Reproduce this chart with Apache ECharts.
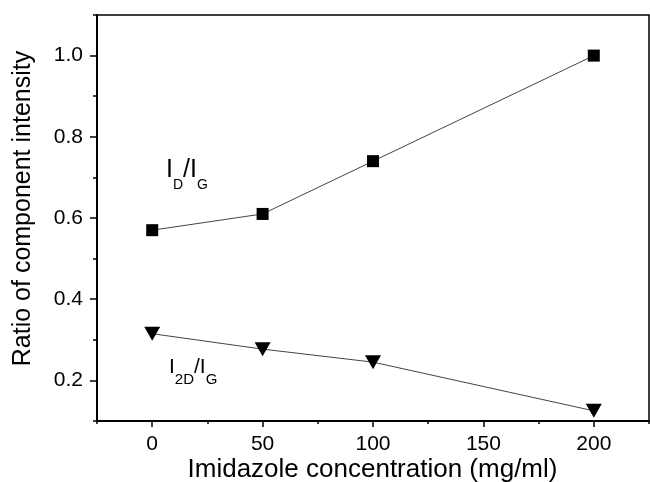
<!DOCTYPE html>
<html>
<head>
<meta charset="utf-8">
<script src="https://cdn.jsdelivr.net/npm/echarts@6/dist/echarts.min.js"></script>
<style>
  html, body { margin: 0; padding: 0; background: #fff; }
  #chart { width: 650px; height: 482px; }
</style>
</head>
<body>
<div id="chart"></div>
<script>
// 浓度 (mg/ml)
var concentration = [0, 50, 100, 200];
// I_D / I_G
var ratioDG = [0.57, 0.61, 0.74, 1.0];
// I_2D / I_G
var ratio2DG = [0.315, 0.277, 0.245, 0.125];
// 刻度
var xMajorTicks = [0, 50, 100, 150, 200];
var yMajorTicks = [0.2, 0.4, 0.6, 0.8, 1.0];

var font = "'Liberation Sans', Arial, sans-serif";

var myChart = echarts.init(document.getElementById('chart'), null, { renderer: 'canvas' });

function pairs(xs, ys) {
    var out = [];
    for (var i = 0; i < xs.length; i++) {
        out.push([xs[i], ys[i]]);
    }
    return out;
}

var option = {
    backgroundColor: '#fff',
    animation: false,
    grid: {
        left: 97,
        right: 1,
        top: 15,
        bottom: 61,
        show: true,
        borderColor: '#000',
        borderWidth: 1.5
    },
    xAxis: [
        {
            type: 'value',
            min: -25,
            max: 225,
            interval: 25,
            position: 'bottom',
            splitLine: { show: false },
            axisLine: { onZero: false, lineStyle: { color: '#000', width: 2 } },
            axisTick: { length: 3, lineStyle: { color: '#000', width: 1.5 } },
            axisLabel: {
                customValues: xMajorTicks,
                margin: 13,
                color: '#000',
                fontSize: 21,
                fontFamily: font
            }
        },
        {
            type: 'value',
            min: -25,
            max: 225,
            position: 'bottom',
            splitLine: { show: false },
            axisLine: { show: false, onZero: false },
            axisTick: { customValues: xMajorTicks, length: 6, lineStyle: { color: '#000', width: 1.5 } },
            axisLabel: { show: false }
        }
    ],
    yAxis: [
        {
            type: 'value',
            min: 0.1,
            max: 1.1,
            interval: 0.1,
            position: 'left',
            splitLine: { show: false },
            axisLine: { onZero: false, lineStyle: { color: '#000', width: 2 } },
            axisTick: { length: 4, lineStyle: { color: '#000', width: 1.5 } },
            axisLabel: {
                customValues: yMajorTicks,
                margin: 14,
                color: '#000',
                fontSize: 21,
                fontFamily: font,
                formatter: function (v) { return v.toFixed(1); }
            }
        },
        {
            type: 'value',
            min: 0.1,
            max: 1.1,
            position: 'left',
            splitLine: { show: false },
            axisLine: { show: false, onZero: false },
            axisTick: { customValues: yMajorTicks, length: 7, lineStyle: { color: '#000', width: 1.5 } },
            axisLabel: { show: false }
        }
    ],
    graphic: [
        {
            type: 'text',
            x: 372.5,
            y: 470,
            style: {
                text: 'Imidazole concentration (mg/ml)',
                font: '26px ' + font,
                fill: '#000',
                align: 'center',
                verticalAlign: 'middle'
            }
        },
        {
            type: 'text',
            x: 23,
            y: 208.5,
            rotation: Math.PI / 2,
            style: {
                text: 'Ratio of component intensity',
                font: '25px ' + font,
                fill: '#000',
                align: 'center',
                verticalAlign: 'middle'
            }
        },
        {
            type: 'text',
            x: 166,
            y: 158,
            style: {
                text: '{m|I}{s|D}{m|/I}{s|G}',
                fill: '#000',
                align: 'left',
                verticalAlign: 'top',
                rich: {
                    m: { fontSize: 25, lineHeight: 25, fontFamily: font, verticalAlign: 'top' },
                    s: { fontSize: 14, lineHeight: 14, fontFamily: font, verticalAlign: 'top', padding: [20, 0, 0, 0] }
                }
            }
        },
        {
            type: 'text',
            x: 169,
            y: 357,
            style: {
                text: '{m|I}{s|2D}{m|/I}{s|G}',
                fill: '#000',
                align: 'left',
                verticalAlign: 'top',
                rich: {
                    m: { fontSize: 21, lineHeight: 21, fontFamily: font, verticalAlign: 'top' },
                    s: { fontSize: 15, lineHeight: 15, fontFamily: font, verticalAlign: 'top', padding: [15, 0, 0, 0] }
                }
            }
        }
    ],
    series: [
        {
            name: 'ID/IG',
            type: 'line',
            xAxisIndex: 0,
            yAxisIndex: 0,
            data: pairs(concentration, ratioDG),
            symbol: 'rect',
            symbolSize: 12,
            itemStyle: { color: '#000' },
            lineStyle: { color: '#444', width: 1 }
        },
        {
            name: 'I2D/IG',
            type: 'line',
            xAxisIndex: 0,
            yAxisIndex: 0,
            data: pairs(concentration, ratio2DG),
            symbol: 'triangle',
            symbolRotate: 180,
            symbolSize: [16, 14],
            itemStyle: { color: '#000' },
            lineStyle: { color: '#444', width: 1 }
        }
    ]
};
myChart.setOption(option);
</script>
</body>
</html>
